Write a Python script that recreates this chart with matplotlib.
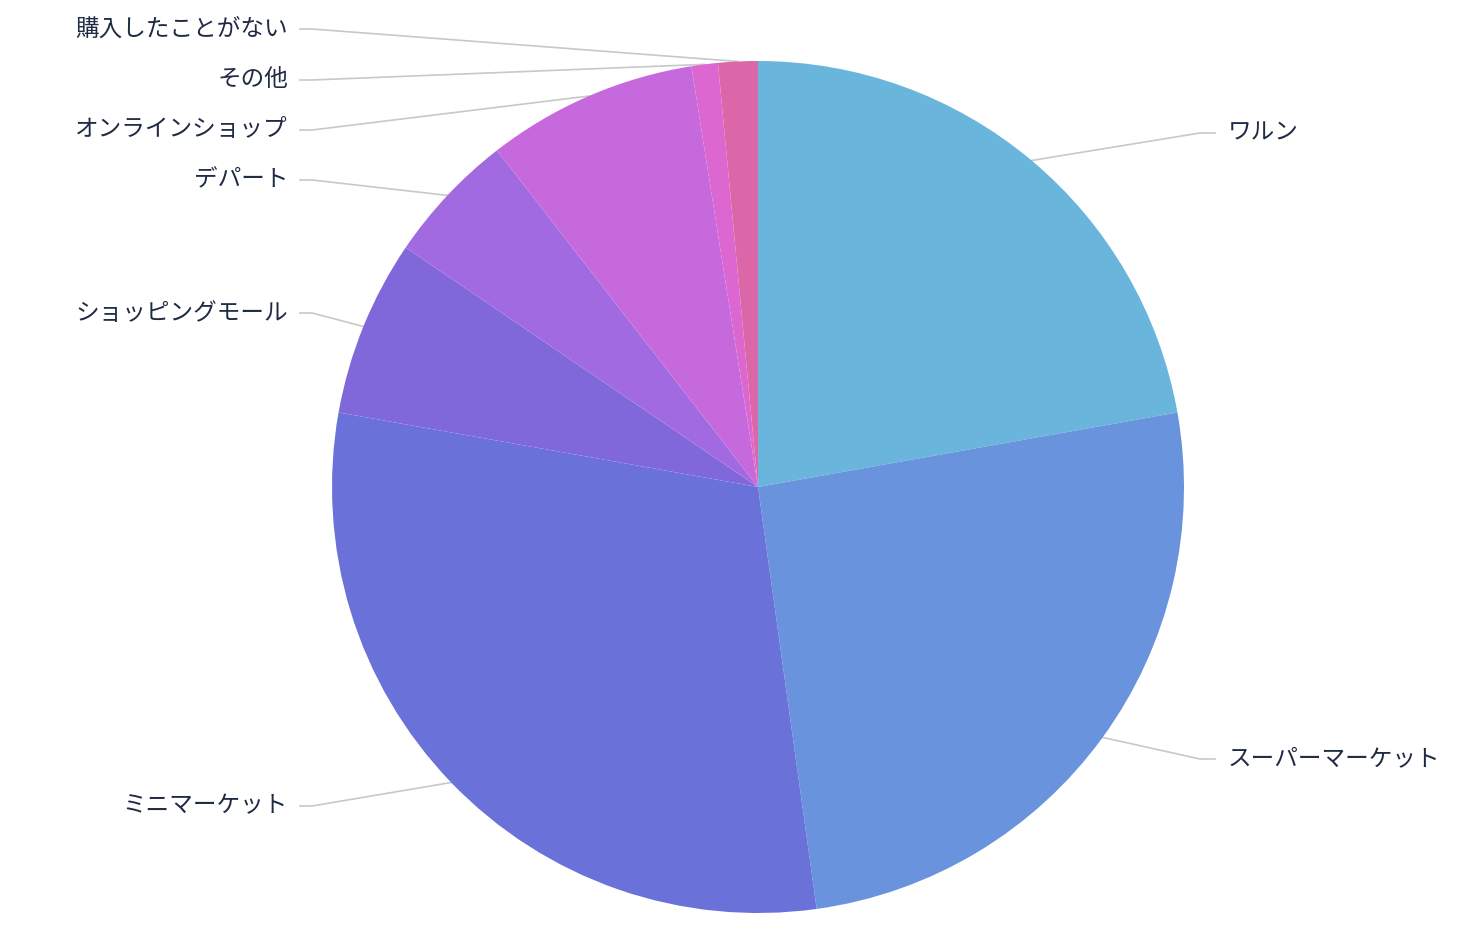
import numpy as np
import matplotlib
matplotlib.use("Agg")
import matplotlib.pyplot as plt

plt.rcParams['font.family'] = ['Noto Sans CJK JP', 'DejaVu Sans']

labels = ["ワルン", "スーパーマーケット", "ミニマーケット", "ショッピングモール",
          "デパート", "オンラインショップ", "その他", "購入したことがない"]
values = [22.2, 25.6, 30.0, 6.7, 5.0, 8.0, 1.0, 1.5]
colors = ["#6ab5dc", "#6993dc", "#6a72da", "#8168da",
          "#a26ae0", "#c669dc", "#dc67d0", "#dc67a8"]
# label rows in pixel y (from top)
label_y = [133, 759, 806, 313, 180, 130, 80, 29]

W, H = 1478, 942
cx, cy, r = 758, H - 487, 426

fig = plt.figure(figsize=(W / 100, H / 100), dpi=100)
ax = fig.add_axes([0, 0, 1, 1])
ax.set_xlim(0, W)
ax.set_ylim(0, H)
ax.axis("off")

wedges, _ = ax.pie(values, colors=colors, startangle=90, counterclock=False,
                   center=(cx, cy), radius=r, frame=True,
                   wedgeprops=dict(linewidth=0))
ax.set_xlim(0, W)
ax.set_ylim(0, H)
ax.set_aspect("equal")
ax.axis("off")

for w, lab, ly in zip(wedges, labels, label_y):
    mid = np.deg2rad((w.theta1 + w.theta2) / 2)
    ex, ey = cx + r * np.cos(mid), cy + r * np.sin(mid)
    ty = H - ly
    if ex > cx:
        xs = [ex, 1200, 1215]
        tx, ha = 1228, "left"
    else:
        xs = [ex, 312, 300]
        tx, ha = 288, "right"
    ax.plot(xs, [ey, ty, ty], color="#c8c8c8", lw=1.2, zorder=0)
    ax.text(tx, ty, lab, ha=ha, va="center", fontsize=17, color="#1f2a44")

fig.savefig("out.png", dpi=100)
